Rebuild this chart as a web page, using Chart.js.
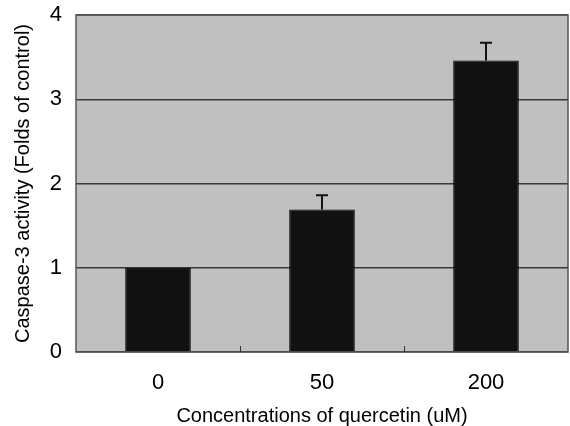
<!DOCTYPE html>
<html>
<head>
<meta charset="utf-8">
<script src="https://cdn.jsdelivr.net/npm/chart.js@4/dist/chart.umd.min.js"></script>
<style>
  html, body { margin: 0; padding: 0; background: #fff; }
  #wrap { width: 570px; height: 426px; }
</style>
</head>
<body>
<div id="wrap"><canvas id="chart" width="570" height="426"></canvas></div>
<script>
// Data
const concentrations = ['0', '50', '200'];
const caspaseActivity = [1.0, 1.69, 3.46];
const errorValues = [0, 0.17, 0.21];
const yTicks = [0, 1, 2, 3, 4];

const FONT = "'Liberation Sans', Arial, sans-serif";

// Gray plot background + frame
const plotBackground = {
    id: 'plotBackground',
    beforeDraw(chart) {
        const { ctx, chartArea: a } = chart;
        ctx.save();
        ctx.fillStyle = '#c0c0c0';
        ctx.fillRect(a.left, a.top, a.right - a.left, a.bottom - a.top);
        ctx.restore();
    },
    afterDraw(chart) {
        const { ctx, chartArea: a } = chart;
        const x = chart.scales.x;
        ctx.save();
        ctx.strokeStyle = '#555';
        ctx.lineWidth = 1.5;
        ctx.strokeRect(a.left, a.top, a.right - a.left, a.bottom - a.top);
        // small inward tick marks between categories
        ctx.strokeStyle = '#333';
        ctx.lineWidth = 1;
        for (let i = 1; i < concentrations.length; i++) {
            const px = Math.round(x.getPixelForValue(i - 0.5)) + 0.5;
            ctx.beginPath();
            ctx.moveTo(px, a.bottom);
            ctx.lineTo(px, a.bottom - 6);
            ctx.stroke();
        }
        ctx.restore();
    }
};

// Error bars (upper only)
const errorBars = {
    id: 'errorBars',
    afterDatasetsDraw(chart) {
        const { ctx } = chart;
        const y = chart.scales.y;
        const meta = chart.getDatasetMeta(0);
        ctx.save();
        ctx.strokeStyle = '#111';
        ctx.lineWidth = 2;
        meta.data.forEach((bar, i) => {
            const err = errorValues[i];
            if (!err) return;
            const top = y.getPixelForValue(caspaseActivity[i] + err);
            ctx.beginPath();
            ctx.moveTo(bar.x, bar.y);
            ctx.lineTo(bar.x, top);
            ctx.moveTo(bar.x - 6, top);
            ctx.lineTo(bar.x + 6, top);
            ctx.stroke();
        });
        ctx.restore();
    }
};

new Chart(document.getElementById('chart'), {
    type: 'bar',
    data: {
        labels: concentrations,
        datasets: [{
            data: caspaseActivity,
            backgroundColor: '#111111',
            borderColor: '#000000',
            borderWidth: 1,
            categoryPercentage: 1.0,
            barPercentage: 0.4
        }]
    },
    options: {
        responsive: false,
        animation: false,
        layout: { padding: { left: 0, right: 2, top: 15, bottom: 0 } },
        plugins: {
            legend: { display: false },
            tooltip: { enabled: false }
        },
        scales: {
            x: {
                grid: { display: false },
                border: { display: false },
                ticks: {
                    color: '#000',
                    font: { family: FONT, size: 22 },
                    padding: 10
                },
                title: {
                    display: true,
                    text: 'Concentrations of quercetin (uM)',
                    color: '#000',
                    font: { family: FONT, size: 20, lineHeight: 1 },
                    padding: { top: 7, bottom: 0 }
                },
                afterFit(scale) { scale.height = 74; }
            },
            y: {
                min: 0,
                max: 4,
                afterBuildTicks(scale) {
                    scale.ticks = yTicks.map(v => ({ value: v }));
                },
                grid: {
                    color: '#383838',
                    lineWidth: 1.5,
                    tickLength: 0,
                    drawTicks: false
                },
                border: { display: false },
                ticks: {
                    color: '#000',
                    font: { family: FONT, size: 22 },
                    padding: 14
                },
                title: {
                    display: true,
                    text: 'Caspase-3 activity (Folds of control)',
                    color: '#000',
                    font: { family: FONT, size: 20, lineHeight: 1 },
                    padding: { top: 13, bottom: 0 }
                },
                afterFit(scale) {
                    scale.width = 76;
                    // keep the top label overflow from pushing the plot down
                    scale.paddingTop = 0;
                }
            }
        }
    },
    plugins: [plotBackground, errorBars]
});
</script>
</body>
</html>
